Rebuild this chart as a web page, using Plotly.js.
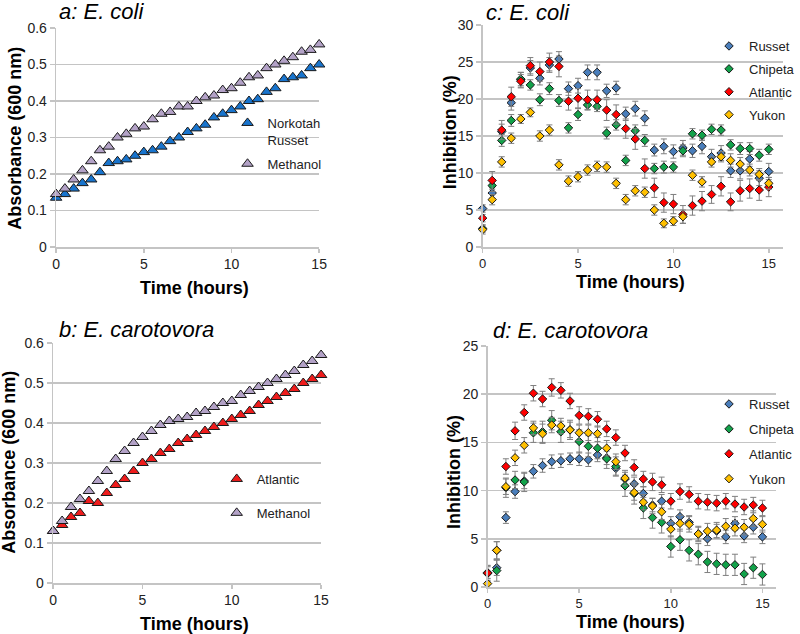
<!DOCTYPE html>
<html>
<head>
<meta charset="utf-8">
<script src="https://cdn.plot.ly/plotly-3.0.1.min.js"></script>
<style>
  html, body { margin: 0; padding: 0; background: #ffffff; }
  #chart { width: 800px; height: 634px; }
</style>
</head>
<body>
<div id="chart"></div>
<script>
// sampling times (hours)
const hours = [0, 0.5, 1, 1.5, 2, 2.5, 3, 3.5, 4, 4.5, 5, 5.5, 6, 6.5, 7, 7.5,
  8, 8.5, 9, 9.5, 10, 10.5, 11, 11.5, 12, 12.5, 13, 13.5, 14, 14.5, 15];

// a: E. coli absorbance
const aRusset = [0.135, 0.145, 0.16, 0.175, 0.185, 0.205, 0.23, 0.235, 0.24, 0.25, 0.26, 0.265,
  0.275, 0.29, 0.30, 0.315, 0.325, 0.335, 0.355, 0.365, 0.375, 0.385, 0.40, 0.405, 0.425, 0.435,
  0.46, 0.465, 0.47, 0.49, 0.50];
const aMethanol = [0.145, 0.16, 0.185, 0.21, 0.235, 0.265, 0.275, 0.30, 0.31, 0.325, 0.33, 0.35,
  0.365, 0.37, 0.385, 0.385, 0.40, 0.41, 0.415, 0.43, 0.435, 0.45, 0.465, 0.47, 0.49, 0.50,
  0.51, 0.52, 0.535, 0.54, 0.555];

// b: E. carotovora absorbance
const bAtlantic = [0.13, 0.145, 0.165, 0.175, 0.205, 0.20, 0.225, 0.245, 0.26, 0.28, 0.30, 0.31,
  0.325, 0.335, 0.35, 0.36, 0.37, 0.38, 0.39, 0.40, 0.41, 0.42, 0.43, 0.445, 0.455, 0.465,
  0.475, 0.485, 0.50, 0.51, 0.52];
const bMethanol = [0.13, 0.155, 0.19, 0.21, 0.23, 0.255, 0.28, 0.31, 0.33, 0.35, 0.365, 0.38,
  0.395, 0.405, 0.41, 0.415, 0.425, 0.43, 0.44, 0.45, 0.455, 0.47, 0.48, 0.49, 0.50, 0.51,
  0.52, 0.53, 0.545, 0.555, 0.57];

// c: E. coli inhibition (%)
const cRusset = [5.2, 7.3, 15.6, 19.5, 22.6, 24.2, 22.8, 24.6, 25.4, 21.4, 21.8, 23.6, 23.6, 21.1,
  21.5, 18.0, 18.7, 17.4, 13.1, 13.6, 12.9, 13.4, 13.0, 13.6, 12.2, 12.7, 10.3, 10.3, 11.9, 9.3, 10.2];
const cChipeta = [2.5, 8.3, 14.4, 17.1, 22.7, 21.9, 19.9, 21.4, 19.8, 16.1, 17.9, 19.2, 19.0, 15.4,
  16.5, 11.7, 15.7, 14.4, 10.6, 10.8, 10.8, 13.0, 15.3, 15.1, 15.9, 15.8, 13.8, 13.3, 13.3, 12.4, 13.2];
const cAtlantic = [3.9, 9.0, 15.8, 20.3, 22.4, 24.5, 23.7, 25.0, 24.4, 19.7, 20.1, 19.9, 19.9, 18.5,
  17.9, 16.0, 14.6, 10.6, 8.0, 6.0, 5.8, 4.4, 5.6, 6.2, 7.1, 8.2, 6.1, 7.6, 7.9, 7.7, 8.1];
const cYukon = [2.35, 6.4, 11.5, 14.7, 17.3, 18.2, 15.0, 15.8, 11.1, 8.9, 9.5, 10.4, 10.9, 10.8,
  8.6, 6.4, 7.6, 7.4, 5.0, 3.2, 3.5, 4.1, 9.7, 8.8, 11.5, 12.2, 11.7, 11.2, 10.4, 9.8, 8.6];
const cRussetErr = [0.5, 0.7, 1.0, 1.0, 1.0, 1.0, 0.9, 1.0, 1.0, 0.9, 1.0, 1.0, 1.0, 0.9, 0.9, 0.9,
  1.0, 1.0, 0.8, 1.0, 0.9, 1.0, 0.9, 1.0, 1.0, 1.0, 0.9, 1.1, 1.0, 1.0, 1.1];
const cChipetaErr = [0.5, 0.8, 0.8, 0.8, 0.9, 0.7, 0.8, 0.8, 0.8, 0.7, 0.8, 0.7, 0.7, 0.8, 0.7, 0.7,
  0.8, 0.8, 0.7, 0.8, 0.7, 0.8, 0.7, 0.7, 0.7, 0.7, 0.7, 0.8, 0.8, 0.8, 0.7];
const cAtlanticErr = [0.5, 1.2, 1.3, 1.3, 0.9, 1.1, 1.3, 1.2, 1.4, 1.2, 1.3, 1.3, 1.3, 1.4, 1.3, 1.3,
  1.4, 1.3, 1.3, 1.3, 1.3, 1.2, 1.3, 1.3, 1.2, 1.3, 1.2, 1.4, 1.3, 1.4, 1.3];
const cYukonErr = [0.6, 0.7, 0.7, 0.7, 0.6, 0.6, 0.7, 0.7, 0.7, 0.7, 0.7, 0.7, 0.7, 0.7, 0.7, 0.7,
  0.7, 0.7, 0.7, 0.6, 0.6, 0.9, 0.7, 0.7, 0.7, 0.7, 0.9, 0.9, 0.8, 0.8, 0.8];

// d: E. carotovora inhibition (%)
const dRusset = [1.5, 2.0, 7.2, 9.9, 11.0, 12.0, 12.6, 13.0, 13.1, 13.3, 13.3, 13.2, 13.7, 13.4,
  12.3, 11.2, 10.7, 9.7, 8.5, 8.9, 6.6, 7.3, 6.7, 5.5, 5.0, 5.8, 5.2, 6.6, 5.3, 6.2, 5.2];
const dChipeta = [1.4, 1.7, 10.3, 11.1, 10.9, 16.0, 16.1, 17.3, 16.1, 16.3, 15.1, 14.6, 14.4, 13.3,
  12.5, 10.5, 9.7, 8.2, 7.2, 6.7, 4.2, 4.9, 3.8, 3.4, 2.6, 2.4, 2.3, 2.3, 1.35, 2.0, 1.3];
const dAtlantic = [1.45, 3.8, 12.5, 16.2, 18.1, 20.1, 19.5, 20.7, 20.4, 19.3, 17.8, 17.7, 17.4, 16.4,
  15.5, 13.9, 12.4, 11.2, 10.9, 10.6, 8.9, 9.9, 9.6, 8.9, 8.8, 8.7, 8.9, 8.6, 8.3, 8.5, 8.2];
const dYukon = [0.35, 3.8, 10.4, 13.4, 14.7, 16.5, 15.9, 16.8, 16.7, 16.3, 16.0, 16.0, 15.9, 14.4,
  13.0, 11.3, 9.8, 8.8, 8.4, 7.8, 6.0, 6.6, 6.5, 5.5, 5.8, 5.9, 6.3, 6.1, 6.2, 7.1, 6.5];
const dRussetErr = [0.6, 0.8, 0.6, 0.7, 0.8, 0.7, 0.7, 0.7, 0.7, 0.6, 0.7, 0.7, 0.7, 0.7, 0.7, 0.7,
  0.7, 0.7, 0.7, 0.7, 0.7, 0.7, 0.7, 0.7, 0.7, 0.7, 0.7, 0.7, 0.7, 0.7, 0.7];
const dChipetaErr = [0.8, 1.1, 1.0, 0.9, 1.0, 1.0, 1.1, 1.0, 1.1, 1.0, 1.2, 1.1, 1.1, 1.0, 1.0, 1.1,
  1.1, 1.1, 1.1, 1.1, 1.1, 1.1, 1.1, 1.1, 1.1, 1.1, 1.1, 1.1, 1.1, 1.1, 1.1];
const dAtlanticErr = [0.8, 0.9, 0.8, 0.9, 0.8, 0.8, 0.8, 0.9, 0.8, 0.8, 0.9, 0.8, 0.8, 0.8, 0.8, 0.8,
  0.8, 0.8, 0.9, 0.8, 0.8, 0.8, 0.8, 0.8, 0.8, 0.8, 0.8, 0.8, 0.8, 0.8, 0.8];
const dYukonErr = [0.5, 0.9, 0.8, 0.8, 0.8, 0.7, 1.0, 0.8, 0.8, 0.8, 0.8, 0.8, 0.8, 0.8, 0.8, 0.8,
  0.8, 0.8, 0.8, 0.8, 0.8, 0.8, 0.8, 0.8, 0.8, 0.8, 0.8, 0.8, 0.8, 0.8, 0.8];

const FONT = '"Liberation Sans", Arial, sans-serif';
const GRID = '#c4c4c4';
const EDGE = '#1a1a1a';
const ERRC = '#7f7f7f';

const triangle = (x, y, name, color, xa, ya, legend) => ({
  x, y, name, xaxis: xa, yaxis: ya, legend, legendgroup: name + xa,
  type: 'scatter', mode: 'markers', cliponaxis: false,
  marker: { symbol: 'triangle-up', size: 10, color, line: { color: EDGE, width: 1 } }
});

const diamond = (x, y, err, name, color, xa, ya, legend) => ({
  x, y, name, xaxis: xa, yaxis: ya, legend, legendgroup: name + xa,
  type: 'scatter', mode: 'markers', cliponaxis: false,
  error_y: { type: 'data', array: err, visible: true, color: ERRC, thickness: 1, width: 3 },
  marker: { symbol: 'diamond', size: 6.5, color, line: { color: EDGE, width: 1 } }
});

const traces = [
  triangle(hours, aRusset, 'Norkotah<br>Russet', '#1874cd', 'x', 'y', 'legend'),
  triangle(hours, aMethanol, 'Methanol', '#b3a2c7', 'x', 'y', 'legend'),
  triangle(hours, bAtlantic, 'Atlantic', '#ee1c1c', 'x3', 'y3', 'legend3'),
  triangle(hours, bMethanol, 'Methanol', '#b3a2c7', 'x3', 'y3', 'legend3'),
  diamond(hours, cRusset, cRussetErr, 'Russet', '#4a7ebb', 'x2', 'y2', 'legend2'),
  diamond(hours, cChipeta, cChipetaErr, 'Chipeta', '#12a24a', 'x2', 'y2', 'legend2'),
  diamond(hours, cAtlantic, cAtlanticErr, 'Atlantic', '#ff0000', 'x2', 'y2', 'legend2'),
  diamond(hours, cYukon, cYukonErr, 'Yukon', '#ffc000', 'x2', 'y2', 'legend2'),
  diamond(hours, dRusset, dRussetErr, 'Russet', '#4a7ebb', 'x4', 'y4', 'legend4'),
  diamond(hours, dChipeta, dChipetaErr, 'Chipeta', '#12a24a', 'x4', 'y4', 'legend4'),
  diamond(hours, dAtlantic, dAtlanticErr, 'Atlantic', '#ff0000', 'x4', 'y4', 'legend4'),
  diamond(hours, dYukon, dYukonErr, 'Yukon', '#ffc000', 'x4', 'y4', 'legend4')
];

const W = 800, H = 634;
const px = v => v / W;
const py = v => 1 - v / H;

const xAxis = (left, right, max, anchor, fontSize) => ({
  domain: [px(left), px(right)], anchor, range: [0, max], dtick: 5, tick0: 0,
  showgrid: false, zeroline: false, showline: true, linecolor: GRID, linewidth: 1.5,
  ticks: 'outside', ticklen: 4, tickcolor: GRID, tickwidth: 1.5,
  tickfont: { family: FONT, size: fontSize, color: '#222' }
});

const yAxis = (top, bottom, max, dtick, anchor) => ({
  domain: [py(bottom), py(top)], anchor, range: [0, max], dtick, tick0: 0,
  showgrid: true, gridcolor: GRID, gridwidth: 1.5, zeroline: false,
  showline: true, linecolor: GRID, linewidth: 1.5,
  ticks: 'outside', ticklen: 5, tickcolor: GRID, tickwidth: 1.5,
  tickfont: { family: FONT, size: 14, color: '#222' }
});

const legendAt = (left, top, gap) => ({
  x: px(left), y: py(top), xanchor: 'left', yanchor: 'top',
  bgcolor: 'rgba(0,0,0,0)', borderwidth: 0, valign: 'top',
  traceorder: 'grouped', tracegroupgap: gap, itemclick: false,
  font: { family: FONT, size: 13, color: '#222' }
});

const label = (text, x, y, opts = {}) => Object.assign({
  text, xref: 'paper', yref: 'paper', x: px(x), y: py(y), showarrow: false,
  xanchor: 'center', yanchor: 'middle',
  font: { family: FONT, size: 18, color: '#000' }
}, opts);

const panelTitle = (text, x, y) => label('<i>' + text + '</i>', x, y, {
  xanchor: 'left', font: { family: FONT, size: 22, color: '#000' }
});

const layout = {
  width: W, height: H,
  margin: { l: 0, r: 0, t: 0, b: 0 },
  paper_bgcolor: '#ffffff', plot_bgcolor: '#ffffff',
  xaxis: xAxis(57, 324, 15, 'y', 14),
  yaxis: yAxis(28, 247, 0.6, 0.1, 'x'),
  xaxis2: xAxis(490, 795, 15.75, 'y2', 13),
  yaxis2: yAxis(25, 247, 30, 5, 'x2'),
  xaxis3: xAxis(54, 326, 15, 'y3', 14),
  yaxis3: yAxis(343, 583, 0.6, 0.1, 'x3'),
  xaxis4: xAxis(495, 788, 15.75, 'y4', 13),
  yaxis4: yAxis(346, 587, 25, 5, 'x4'),
  legend: legendAt(231, 108, 4),
  legend2: legendAt(720, 31, 3),
  legend3: legendAt(220, 464, 14),
  legend4: legendAt(720, 389, 5),
  annotations: [
    panelTitle('a: E. coli', 58, 12),
    panelTitle('c: E. coli', 491, 13),
    panelTitle('b: E. carotovora', 58, 329),
    panelTitle('d: E. carotovora', 498, 330),
    label('<b>Absorbance (600 nm)</b>', 15, 138, { textangle: -90 }),
    label('<b>Absorbance (600 nm)</b>', 9, 462, { textangle: -90 }),
    label('<b>Inhibition (%)</b>', 457, 132, { textangle: -90 }),
    label('<b>Inhibition (%)</b>', 461, 472, { textangle: -90 }),
    label('<b>Time (hours)</b>', 197, 288),
    label('<b>Time (hours)</b>', 197, 624),
    label('<b>Time (hours)</b>', 640, 282),
    label('<b>Time (hours)</b>', 640, 622)
  ],
  showlegend: true
};

Plotly.newPlot('chart', traces, layout, { displayModeBar: false, staticPlot: true });
</script>
</body>
</html>
